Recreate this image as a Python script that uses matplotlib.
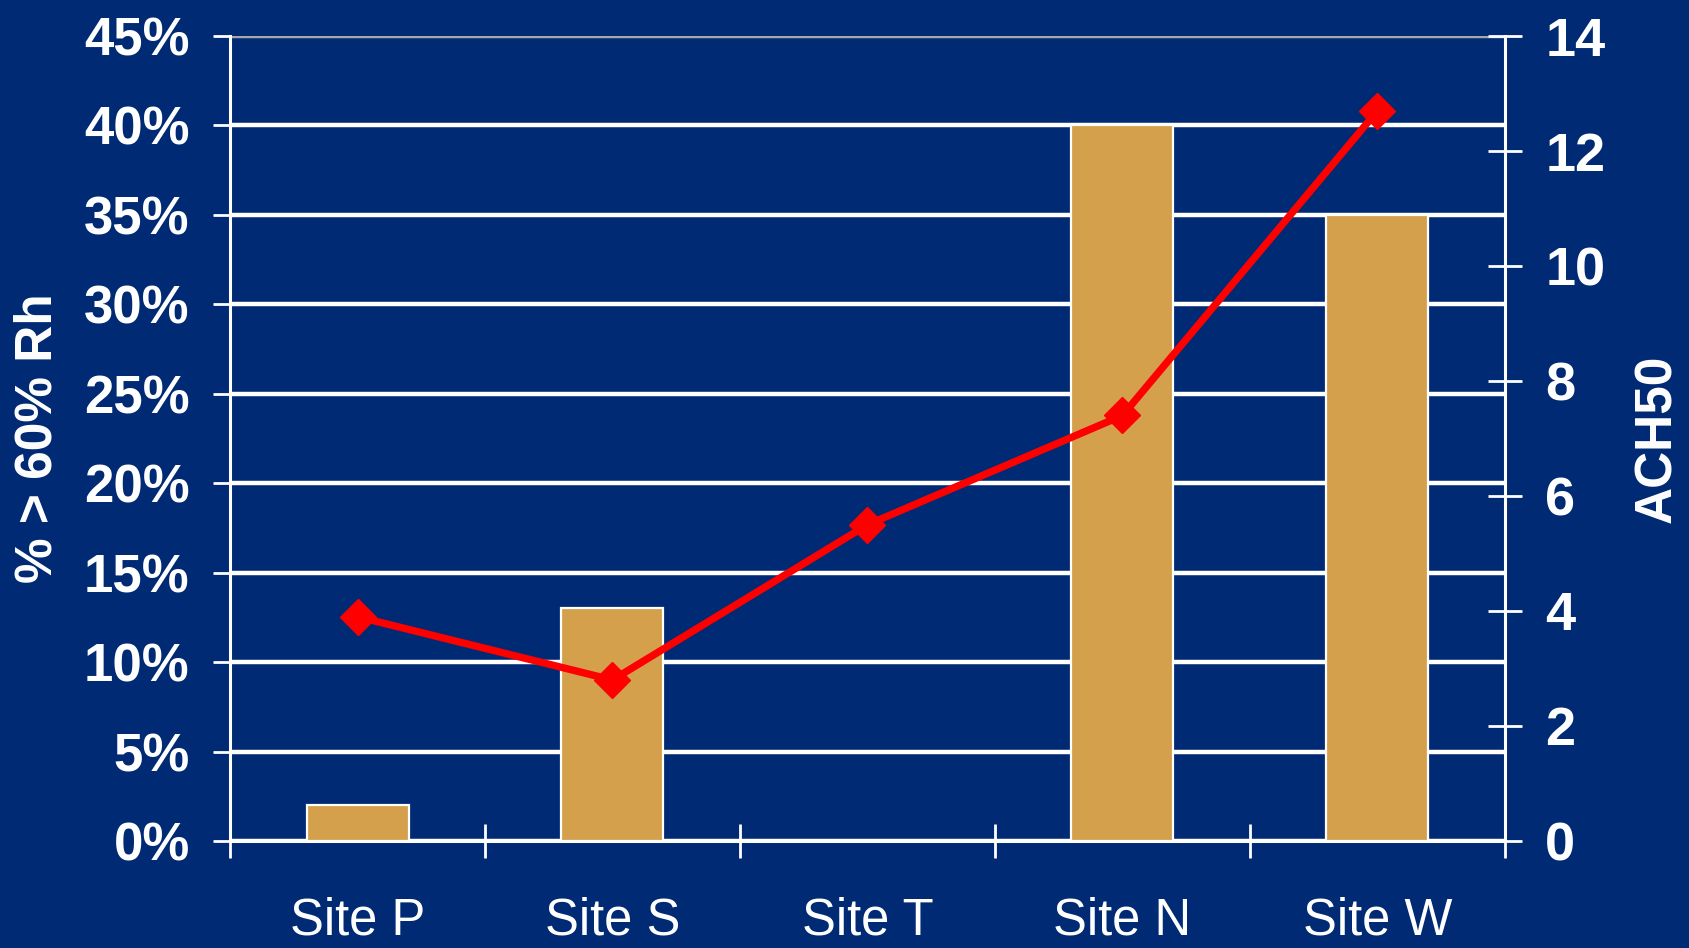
import matplotlib
matplotlib.use("Agg")
import matplotlib.pyplot as plt
import numpy as np

plt.rcParams['font.family'] = ['Liberation Sans', 'DejaVu Sans']

sites = ["Site P", "Site S", "Site T", "Site N", "Site W"]
pct_over_60rh = [2, 13, 0, 40, 35]          # % of time above 60% RH
ach50 = [3.9, 2.8, 5.5, 7.4, 12.7]          # air changes per hour at 50 Pa
left_ticks = [0, 5, 10, 15, 20, 25, 30, 35, 40, 45]
right_ticks = [0, 2, 4, 6, 8, 10, 12, 14]

BG = "#002a73"
BAR = "#d4a04c"
WHITE = "white"

fig = plt.figure(figsize=(16.9, 9.48), dpi=100, facecolor=BG)
ax = fig.add_axes([0.1361, 0.1129, 0.8905 - 0.1361, 0.962 - 0.1129])
ax.set_facecolor(BG)

x = np.arange(len(sites))
ax.bar(x, pct_over_60rh, width=0.4, color=BAR, edgecolor=WHITE,
       linewidth=1.6, zorder=3)

ax.set_xlim(-0.5, len(sites) - 0.5)
ax.set_ylim(0, 45)
ax.set_yticks(left_ticks)
ax.set_yticklabels([f"{t}%" for t in left_ticks])
ax.yaxis.grid(True, color=WHITE, linewidth=3.2, zorder=1)
ax.set_axisbelow(True)

# category boundaries get the tick marks, centres get the labels
ax.set_xticks(np.arange(len(sites) + 1) - 0.5)
ax.set_xticklabels([])
ax.set_xticks(x, minor=True)
ax.set_xticklabels(sites, minor=True)
ax.tick_params(axis='x', which='major', direction='inout', length=24,
               width=2, color=WHITE)
ax.tick_params(axis='x', which='minor', length=0, pad=40,
               labelsize=36.5, labelcolor=WHITE)
ax.tick_params(axis='y', direction='out', length=12, width=2, color=WHITE,
               pad=17, labelsize=38, labelcolor=WHITE)
for lab in ax.get_yticklabels():
    lab.set_fontweight('bold')

for side in ('top', 'right'):
    ax.spines[side].set_visible(False)
for side in ('left', 'bottom'):
    ax.spines[side].set_color(WHITE)
    ax.spines[side].set_linewidth(2.2)

ax.set_ylabel("% > 60% Rh", fontsize=37, fontweight='bold', color=WHITE)
ax.yaxis.set_label_coords(-0.131, 0.5)

ax2 = ax.twinx()
ax2.plot(x, ach50, color="#ff0000", linewidth=5.3, marker='D',
         markersize=18.5, markeredgecolor="#ff0000", zorder=5, clip_on=False)
ax2.set_ylim(0, 14)
ax2.set_yticks(right_ticks)
ax2.tick_params(axis='y', direction='inout', length=24, width=2,
                color=WHITE, pad=17, labelsize=39, labelcolor=WHITE)
for lab in ax2.get_yticklabels():
    lab.set_fontweight('bold')
for side in ('top', 'left', 'bottom'):
    ax2.spines[side].set_visible(False)
ax2.spines['right'].set_color(WHITE)
ax2.spines['right'].set_linewidth(2.2)
ax2.set_ylabel("ACH50", fontsize=37, fontweight='bold', color=WHITE)
ax2.yaxis.set_label_coords(1.101, 0.5)

fig.canvas.draw()
ax.yaxis.get_gridlines()[-1].set_color("#a8a8a8")

fig.savefig("out.png", dpi=100, facecolor=BG)
